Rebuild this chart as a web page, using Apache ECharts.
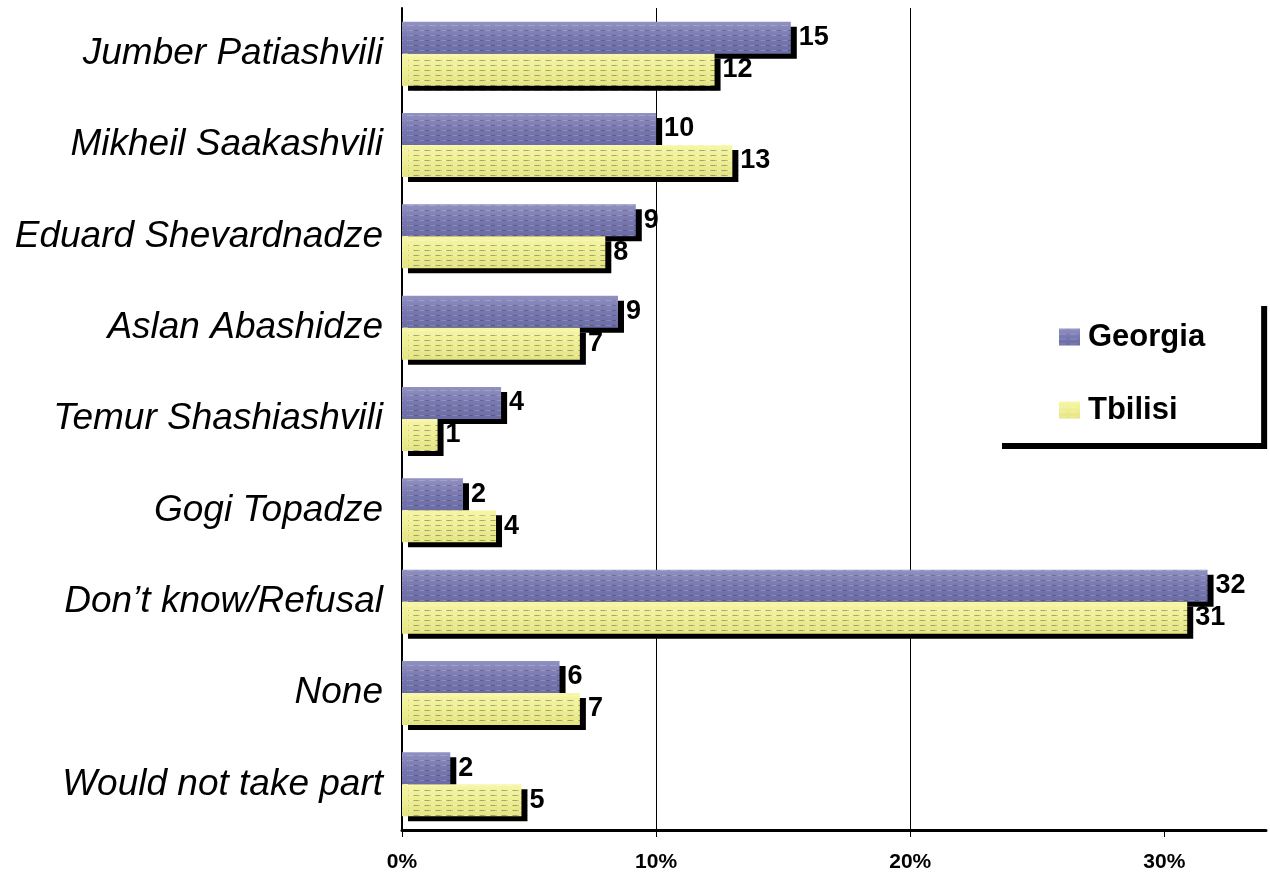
<!DOCTYPE html>
<html>
<head>
<meta charset="utf-8">
<title>Georgia / Tbilisi</title>
<script src="https://cdn.jsdelivr.net/npm/echarts@6/dist/echarts.min.js"></script>
<style>
    html, body { margin: 0; padding: 0; background: #fff; }
    #chart { width: 1270px; height: 876px; }
</style>
</head>
<body>
<div id="chart"></div>
<script>
// ===================================================
//  DATA
// ===================================================
const categories = [
    'Jumber Patiashvili', 'Mikheil Saakashvili', 'Eduard Shevardnadze',
    'Aslan Abashidze', 'Temur Shashiashvili', 'Gogi Topadze',
    'Don\u2019t know/Refusal', 'None', 'Would not take part'
];
const georgia = [15.3, 10.0, 9.2, 8.5, 3.9, 2.4, 31.7, 6.2, 1.9];
const tbilisi = [12.3, 13.0, 8.0, 7.0, 1.4, 3.7, 30.9, 7.0, 4.7];
const georgiaLabels = [15, 10, 9, 9, 4, 2, 32, 6, 2];
const tbilisiLabels = [12, 13, 8, 7, 1, 4, 31, 7, 5];
const xTicks = [0, 10, 20, 30];

// ===================================================
//  CHART
// ===================================================
(function () {
    const el = document.getElementById('chart');
    if (!el || typeof echarts === 'undefined') return;

    const chart = echarts.init(el);
    const font = 'Arial, "Liberation Sans", sans-serif';

    const barLabel = (labels) => ({
        show: true,
        position: 'right',
        distance: 8,
        color: '#000',
        fontFamily: font,
        fontWeight: 'bold',
        fontSize: 27,
        padding: [4, 0, 0, 0],
        formatter: p => labels[p.dataIndex]
    });

    const texture = (color) => ({
        symbol: 'rect',
        symbolSize: 1,
        dashArrayX: [7, 4],
        dashArrayY: [1, 4],
        color: color
    });

    const option = {
        animation: false,
        backgroundColor: '#fff',
        grid: { left: 402, right: 4, top: 8, bottom: 46 },
        legend: {
            orient: 'vertical',
            left: 996,
            top: 300,
            data: ['Georgia', 'Tbilisi'],
            icon: 'rect',
            itemWidth: 21,
            itemHeight: 17,
            itemGap: 39,
            padding: [20, 56, 16, 63],
            backgroundColor: '#fff',
            shadowColor: '#000',
            shadowBlur: 0,
            shadowOffsetX: 6,
            shadowOffsetY: 6,
            textStyle: {
                color: '#000',
                fontFamily: font,
                fontWeight: 'bold',
                fontSize: 31,
                lineHeight: 34,
                padding: [0, 0, 0, 3]
            }
        },
        xAxis: {
            type: 'value',
            min: 0,
            max: 34,
            interval: 10,
            axisLine: { show: true, lineStyle: { color: '#000', width: 3 } },
            axisTick: { show: true, length: 7, customValues: xTicks, lineStyle: { color: '#000', width: 1 } },
            axisLabel: {
                customValues: xTicks,
                formatter: v => v + '%',
                color: '#000',
                fontFamily: font,
                fontWeight: 'bold',
                fontSize: 21,
                margin: 22
            },
            splitLine: {
                show: true,
                showMinLine: false,
                showMaxLine: false,
                lineStyle: { color: '#000', width: 1 }
            }
        },
        yAxis: {
            type: 'category',
            inverse: true,
            data: categories,
            axisLine: { show: true, lineStyle: { color: '#000', width: 2 } },
            axisTick: { show: false },
            axisLabel: {
                color: '#000',
                fontFamily: font,
                fontStyle: 'italic',
                fontSize: 37,
                margin: 19,
                padding: [6, 0, 0, 0]
            }
        },
        series: [
            {
                name: 'Georgia',
                type: 'bar',
                data: georgia,
                barGap: '0%',
                barCategoryGap: '30%',
                itemStyle: {
                    color: new echarts.graphic.LinearGradient(0, 0, 0, 1, [
                        { offset: 0, color: '#9191c2' },
                        { offset: 0.5, color: '#7878b0' },
                        { offset: 1, color: '#6b6ba6' }
                    ]),
                    shadowColor: '#000',
                    shadowBlur: 0,
                    shadowOffsetX: 6,
                    shadowOffsetY: 5,
                    decal: texture('rgba(255,255,255,0.18)')
                },
                label: barLabel(georgiaLabels)
            },
            {
                name: 'Tbilisi',
                type: 'bar',
                data: tbilisi,
                barGap: '0%',
                barCategoryGap: '30%',
                itemStyle: {
                    color: new echarts.graphic.LinearGradient(0, 0, 0, 1, [
                        { offset: 0, color: '#f6f6a6' },
                        { offset: 0.5, color: '#eeee92' },
                        { offset: 1, color: '#e4e482' }
                    ]),
                    shadowColor: '#000',
                    shadowBlur: 0,
                    shadowOffsetX: 6,
                    shadowOffsetY: 5,
                    decal: texture('rgba(255,255,255,0.3)')
                },
                label: barLabel(tbilisiLabels)
            }
        ]
    };

    chart.setOption(option);
})();
</script>
</body>
</html>
